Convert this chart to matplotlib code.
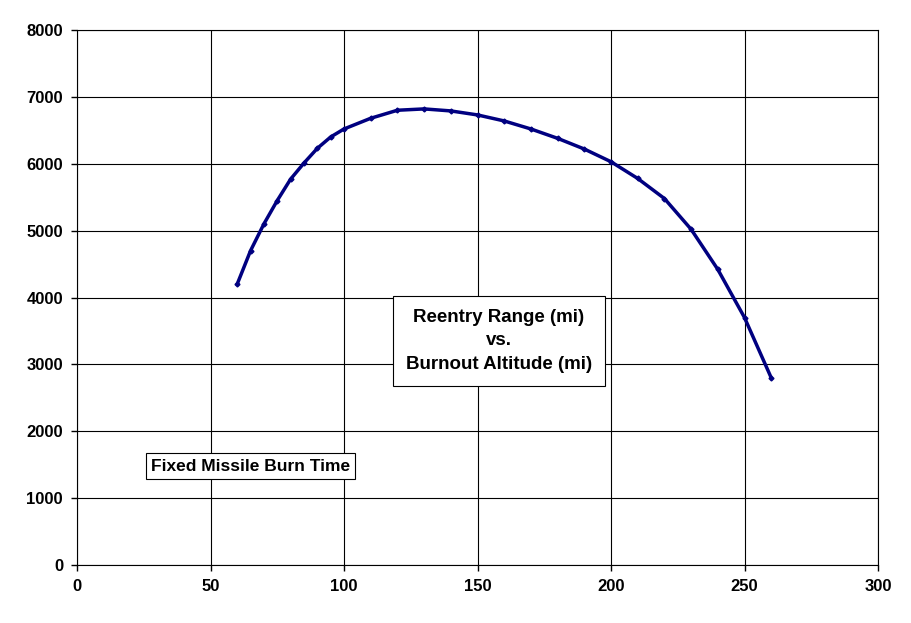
import matplotlib
matplotlib.use("Agg")
import matplotlib.pyplot as plt

altitude = [60, 65, 70, 75, 80, 85, 90, 95, 100, 110, 120, 130, 140, 150, 160, 170, 180, 190, 200, 210, 220, 230, 240, 250, 260]
reentry_range = [4200, 4700, 5100, 5450, 5770, 6010, 6230, 6400, 6520, 6680, 6800, 6820, 6790, 6730, 6640, 6520, 6380, 6220, 6030, 5780, 5480, 5020, 4420, 3700, 2800]
xticks = [0, 50, 100, 150, 200, 250, 300]
yticks = [0, 1000, 2000, 3000, 4000, 5000, 6000, 7000, 8000]

fig = plt.figure(figsize=(9.11, 6.23), dpi=100)
ax = fig.add_axes([77/911, 1-565/623, (878-77)/911, (565-30)/623])
ax.plot(altitude, reentry_range, color="#000080", lw=2.5, marker="D", ms=2.5, zorder=3)
ax.set_xlim(0, 300)
ax.set_ylim(0, 8000)
ax.set_xticks(xticks)
ax.set_yticks(yticks)
ax.grid(True, color="black", lw=0.8)
for s in ax.spines.values():
    s.set_color("black")
ax.tick_params(direction="out", length=4, labelsize=12, width=1, pad=6)
for lab in ax.get_xticklabels() + ax.get_yticklabels():
    lab.set_fontweight("bold")
    lab.set_fontfamily("Liberation Sans")

ax.text(158, 3350, "Reentry Range (mi)\nvs.\nBurnout Altitude (mi)", ha="center", va="center",
        fontsize=13.5, fontweight="bold", family="Liberation Sans", linespacing=1.5,
        bbox=dict(boxstyle="square,pad=0.7", fc="white", ec="black", lw=0.8))
ax.text(65, 1480, "Fixed Missile Burn Time", ha="center", va="center",
        fontsize=12.5, fontweight="bold", family="Liberation Sans",
        bbox=dict(boxstyle="square,pad=0.3", fc="white", ec="black", lw=0.8))
fig.savefig("out.png", dpi=100)
